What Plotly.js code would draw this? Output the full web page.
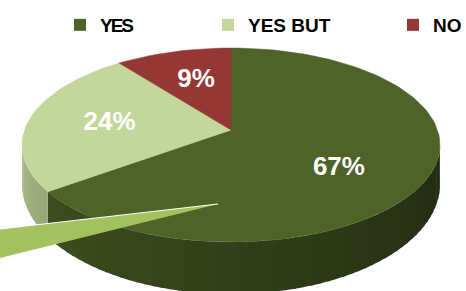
<!DOCTYPE html>
<html>
<head>
<meta charset="utf-8">
<script src="https://cdn.plot.ly/plotly-3.0.1.min.js"></script>
<style>html,body{margin:0;padding:0;background:#fff;}#chart{width:466px;height:291px;}
#chart .legend text{letter-spacing:-2px !important;}</style>
</head>
<body>
<div id="chart"></div>
<script>
// ---- data ----
const categories = ['YES', 'YES BUT', 'NO'];
const values = [67, 24, 9];
const labels = ['67%', '24%', '9%'];

// ---- style ----
const sliceColors = ['#4f6228', '#c3d69b', '#953735'];
const W = 466, H = 291;
const cx = 231, cyTop = 145, rx = 209, ryTop = 97;   // top face ellipse
const cyBot = 184, ryBot = 110;                       // bottom rim ellipse
const vx = 231, vy = 130;                              // apex of the slices
const rad = d => d * Math.PI / 180;
const topPt = a => [cx + rx * Math.sin(rad(a)), cyTop - ryTop * Math.cos(rad(a))];
const botPt = a => [cx + rx * Math.sin(rad(a)), cyBot - ryBot * Math.cos(rad(a))];
function shade(hex, f) {
  const n = parseInt(hex.slice(1), 16);
  const r = Math.round(((n >> 16) & 255) * f), g = Math.round(((n >> 8) & 255) * f), b = Math.round((n & 255) * f);
  return 'rgb(' + r + ',' + g + ',' + b + ')';
}

const total = values.reduce((s, v) => s + v, 0);
const sideTraces = [];
const topTraces = [];
let start = 0;
values.forEach((v, i) => {
  const a0 = start, a1 = start + v / total * 360;
  start = a1;
  // side wall (front half: 90..270 deg)
  const s = Math.max(a0, 90), e = Math.min(a1, 270);
  if (e > s) {
    const nSeg = Math.max(1, Math.ceil((e - s) / 2.5));
    for (let k = 0; k < nSeg; k++) {
      const ss = s + (e - s) * k / nSeg, ee = Math.min(e, s + (e - s) * (k + 1) / nSeg + 0.6);
      const xs = [], ys = [];
      for (let j = 0; j <= 3; j++) { const p = topPt(ss + (ee - ss) * j / 3); xs.push(p[0]); ys.push(p[1]); }
      for (let j = 3; j >= 0; j--) { const p = botPt(ss + (ee - ss) * j / 3); xs.push(p[0]); ys.push(p[1]); }
      const mid = (ss + ee) / 2;
      const f = 0.43 + 0.42 * (mid - 90) / 180;
      const col = shade(sliceColors[i], f);
      sideTraces.push({type: 'scatter', mode: 'lines', x: xs, y: ys, fill: 'toself', fillcolor: col,
        line: {color: col, width: 0}, hoverinfo: 'skip', showlegend: false});
    }
  }
  // top wedge
  const xs = [vx], ys = [vy];
  const steps = Math.max(4, Math.ceil((a1 - a0) / 2));
  for (let k = 0; k <= steps; k++) { const p = topPt(a0 + (a1 - a0) * k / steps); xs.push(p[0]); ys.push(p[1]); }
  xs.push(vx); ys.push(vy);
  topTraces.push({type: 'scatter', mode: 'lines', x: xs, y: ys, fill: 'toself', fillcolor: sliceColors[i],
    line: {color: sliceColors[i], width: 0.5}, hoverinfo: 'skip', showlegend: false, name: categories[i]});
});

// labels
const lx = [], ly = [];
start = 0;
values.forEach(v => {
  const m = start + v / total * 180;
  start += v / total * 360;
  lx.push(vx + 0.6 * rx * Math.sin(rad(m)));
  ly.push(vy + 8 - 0.62 * ryTop * Math.cos(rad(m)));
});
const labelTrace = {type: 'scatter', mode: 'text', x: lx, y: ly, text: labels,
  textfont: {family: 'Liberation Sans, Arial, sans-serif', size: 26, color: '#ffffff', weight: 'bold'},
  hoverinfo: 'skip', showlegend: false};

// legend entries
const legendNames = ['legend', 'legend2', 'legend3'];
const legendTraces = categories.map((c, i) => ({type: 'scatter', mode: 'markers', x: [null], y: [null], name: c,
  marker: {symbol: 'square', size: 12, color: sliceColors[i]}, legend: legendNames[i], showlegend: true, hoverinfo: 'skip'}));

const legFont = {family: 'Liberation Sans, Arial, sans-serif', size: 19, color: '#000', weight: 'bold'};
const legXs = [60, 208, 393];
const layout = {
  width: W, height: H,
  margin: {l: 0, r: 0, t: 0, b: 0, autoexpand: false},
  paper_bgcolor: '#ffffff', plot_bgcolor: '#ffffff',
  xaxis: {range: [0, W], visible: false, fixedrange: true},
  yaxis: {range: [H, 0], visible: false, fixedrange: true},
  shapes: [
    {type: 'path', path: 'M218,204 L0,229 L0,258 Z', xref: 'x', yref: 'y', fillcolor: '#a3c15f', line: {width: 0}},
    {type: 'line', x0: 218, y0: 204, x1: 0, y1: 229, xref: 'x', yref: 'y', line: {color: '#ffffff', width: 1.2}}
  ],
  hovermode: false
};
legendNames.forEach((ln, i) => {
  layout[ln] = {x: legXs[i] / W, y: 1 - 6 / H, xanchor: 'left', yanchor: 'top', font: legFont,
    bgcolor: 'rgba(0,0,0,0)', borderwidth: 0};
});

function tighten(gd) {
  gd.querySelectorAll('.legend text').forEach(el => {
    el.style.letterSpacing = '-2px';
    el.setAttribute('letter-spacing', '-2px');
  });
}
Plotly.newPlot('chart', [...sideTraces, ...topTraces, labelTrace, ...legendTraces], layout,
  {displayModeBar: false, staticPlot: true}).then(gd => {
  tighten(gd);
  gd.on('plotly_afterplot', () => tighten(gd));
  setTimeout(() => tighten(gd), 50);
});
</script>
</body>
</html>
